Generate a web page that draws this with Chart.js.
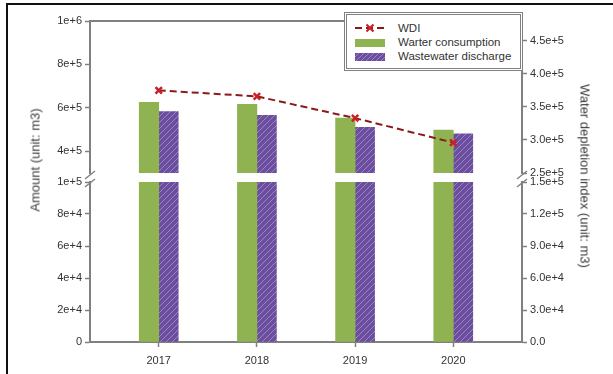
<!DOCTYPE html>
<html><head><meta charset="utf-8">
<script src="https://cdn.jsdelivr.net/npm/chart.js@4"></script>
<style>
html,body{margin:0;padding:0;background:#fff;}
#wrap{position:relative;width:613px;height:374px;overflow:hidden;font-family:"Liberation Sans",Arial,sans-serif;background:#fff;}
#frame{position:absolute;left:6px;top:3px;width:640px;height:400px;border-top:2px solid #111;border-left:2px solid #111;}
canvas{position:absolute;left:0;}
#cTop{top:0;}
#cBot{top:160px;}
.ytitle{position:absolute;font-size:13px;color:#3a3a3a;white-space:nowrap;font-weight:normal;}
#tl{left:35px;top:160px;transform:translate(-50%,-50%) rotate(-90deg);}
#tr{left:585px;top:176px;transform:translate(-50%,-50%) rotate(90deg);}
#legend{position:absolute;left:344px;top:12px;width:179px;height:59px;box-sizing:border-box;border:3px double #808080;background:#fff;}
#legend .sym{position:absolute;left:8px;width:30px;}
#legend .txt{position:absolute;left:51px;font-size:11.5px;color:#333;line-height:14px;white-space:nowrap;}
</style>
</head><body>
<div id="wrap">
  <div id="frame"></div>
  <canvas id="cTop" width="613" height="190"></canvas>
  <canvas id="cBot" width="613" height="214"></canvas>
  <div class="ytitle" id="tl">Amount (unit: m3)</div>
  <div class="ytitle" id="tr">Water depletion index (unit: m3)</div>
  <div id="legend">
    <svg class="sym" style="top:6px" width="30" height="14"><line x1="0" y1="7" x2="30" y2="7" stroke="#8b1a1a" stroke-width="2" stroke-dasharray="7,4"/><line x1="11.5" y1="3.5" x2="18.5" y2="10.5" stroke="#c8202a" stroke-width="2.2"/><line x1="18.5" y1="3.5" x2="11.5" y2="10.5" stroke="#c8202a" stroke-width="2.2"/></svg>
    <span class="txt" id="l0" style="top:6px"></span>
    <div class="sym" style="top:24px;height:8px;background:#8fb351"></div>
    <span class="txt" id="l1" style="top:20px"></span>
    <div class="sym" style="top:38px;height:8px;background:repeating-linear-gradient(-45deg,#6b4f9e 0 2.5px,#9b84c6 2.5px 3.5px)"></div>
    <span class="txt" id="l2" style="top:34px"></span>
  </div>
</div>
<script>
// ---- data ----
const years = ['2017', '2018', '2019', '2020'];
const seriesNames = ['WDI', 'Warter consumption', 'Wastewater discharge'];
const waterConsumption = [626000, 616000, 553000, 498000];
const wastewaterDischarge = [583000, 566000, 510000, 480000];
const wdi = [375000, 366000, 333000, 296000];

const leftUpperTicks = [400000, 600000, 800000, 1000000];
const leftUpperLabels = ['4e+5', '6e+5', '8e+5', '1e+6'];
const leftLowerTicks = [0, 20000, 40000, 60000, 80000, 100000];
const leftLowerLabels = ['0', '2e+4', '4e+4', '6e+4', '8e+4', '1e+5'];
const rightUpperTicks = [250000, 300000, 350000, 400000, 450000];
const rightUpperLabels = ['2.5e+5', '3.0e+5', '3.5e+5', '4.0e+5', '4.5e+5'];
const rightLowerTicks = [0, 30000, 60000, 90000, 120000, 150000];
const rightLowerLabels = ['0.0', '3.0e+4', '6.0e+4', '9.0e+4', '1.2e+5', '1.5e+5'];

// ---- styling ----
const GREEN = '#8fb351';
const AXIS = '#808080';
Chart.defaults.font.family = '"Liberation Sans", Arial, sans-serif';
Chart.defaults.font.size = 11;
Chart.defaults.color = '#333';

document.getElementById('l0').textContent = seriesNames[0];
document.getElementById('l1').textContent = seriesNames[1];
document.getElementById('l2').textContent = seriesNames[2];

function hatch() {
  const c = document.createElement('canvas');
  c.width = 6; c.height = 6;
  const x = c.getContext('2d');
  x.fillStyle = '#6b4f9e'; x.fillRect(0, 0, 6, 6);
  x.strokeStyle = '#9b84c6'; x.lineWidth = 1;
  x.beginPath();
  x.moveTo(0, 6); x.lineTo(6, 0);
  x.moveTo(-1, 1); x.lineTo(1, -1);
  x.moveTo(5, 7); x.lineTo(7, 5);
  x.stroke();
  return x.createPattern(c, 'repeat');
}
const PURPLE = hatch();

function pts(vals) { return years.map((y, i) => ({ x: Number(y), y: vals[i] })); }

function yAxis(pos, min, max, vals, labels) {
  return {
    type: 'linear', position: pos, min: min, max: max,
    afterBuildTicks: s => { s.ticks = vals.map(v => ({ value: v })); },
    afterFit: s => { s.width = pos === 'left' ? 90 : 91; },
    ticks: { autoSkip: false, padding: 3, color: '#333', font: { size: 11 }, callback: (v, i) => labels[i] },
    grid: { drawOnChartArea: false, drawTicks: true, tickLength: 5, tickColor: AXIS, tickWidth: 1.5 },
    border: { display: true, color: AXIS, width: 2 }
  };
}
function xAxis(show) {
  return {
    type: 'linear', position: 'bottom', min: 2016.3, max: 2020.7, display: show, offset: false,
    afterBuildTicks: s => { s.ticks = years.map(y => ({ value: Number(y) })); },
    afterFit: s => { if (show) s.height = 32; },
    ticks: { autoSkip: false, maxRotation: 0, padding: 7, color: '#333', font: { size: 11 }, callback: (v, i) => years[i] },
    grid: { offset: false, drawOnChartArea: false, drawTicks: true, tickLength: 5, tickColor: AXIS, tickWidth: 1.5 },
    border: { display: true, color: AXIS, width: 2 }
  };
}
function barSets() {
  return [
    { type: 'bar', label: seriesNames[1], data: pts(waterConsumption), backgroundColor: GREEN, borderWidth: 0, barThickness: 19.5, clip: 0, yAxisID: 'y', order: 1 },
    { type: 'bar', label: seriesNames[2], data: pts(wastewaterDischarge), backgroundColor: PURPLE, borderWidth: 0, barThickness: 19.5, clip: 0, yAxisID: 'y', order: 1 }
  ];
}
const commonPlugins = { legend: { display: false }, tooltip: { enabled: false } };

// upper panel
new Chart(document.getElementById('cTop'), {
  data: {
    datasets: [
      { type: 'line', label: seriesNames[0], data: pts(wdi), yAxisID: 'y1', order: 0,
        borderColor: '#8b1a1a', borderWidth: 2, borderDash: [7, 4], tension: 0, fill: false,
        pointStyle: 'crossRot', pointRadius: 4.5, pointBorderColor: '#c8202a', pointBorderWidth: 2.5, pointBackgroundColor: '#c8202a' }
    ].concat(barSets())
  },
  options: {
    responsive: false, animation: false,
    layout: { padding: { top: 13, bottom: 17, left: 0, right: 0 } },
    plugins: commonPlugins,
    scales: {
      x: xAxis(false),
      xTop: { type: 'linear', position: 'top', min: 0, max: 1, offset: false, ticks: { display: false }, grid: { display: false }, border: { display: true, color: AXIS, width: 2 } },
      y: yAxis('left', 300000, 1000000, leftUpperTicks, leftUpperLabels),
      y1: yAxis('right', 250000, 480000, rightUpperTicks, rightUpperLabels)
    }
  }
});

// break marks
const breakMarks = {
  id: 'breakMarks',
  afterDraw(chart) {
    const { ctx, chartArea: a } = chart;
    ctx.save();
    ctx.strokeStyle = AXIS; ctx.lineWidth = 1.5;
    [a.left, a.right].forEach(x => {
      [-7, 1].forEach(dy => {
        ctx.beginPath();
        ctx.moveTo(x - 5, a.top + dy + 4);
        ctx.lineTo(x + 5, a.top + dy - 4);
        ctx.stroke();
      });
    });
    ctx.restore();
  }
};

// lower panel
new Chart(document.getElementById('cBot'), {
  data: { datasets: barSets() },
  options: {
    responsive: false, animation: false,
    layout: { padding: { top: 22, bottom: 0, left: 0, right: 0 } },
    plugins: commonPlugins,
    scales: {
      x: xAxis(true),
      y: yAxis('left', 0, 100000, leftLowerTicks, leftLowerLabels),
      y1: yAxis('right', 0, 150000, rightLowerTicks, rightLowerLabels)
    }
  },
  plugins: [breakMarks]
});
</script>
</body></html>
